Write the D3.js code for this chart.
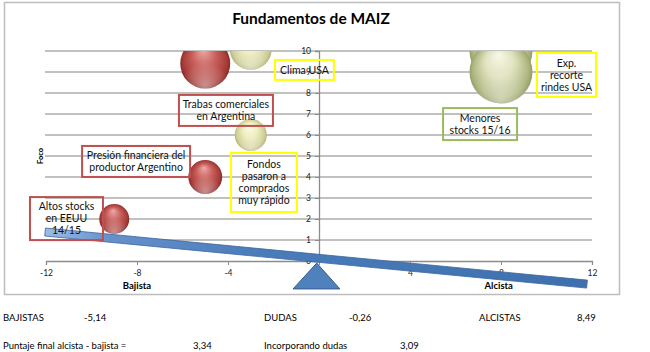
<!DOCTYPE html>
<html><head><meta charset="utf-8">
<script src="https://cdn.jsdelivr.net/npm/d3@7"></script>
<style>body{margin:0;background:#fff} svg{display:block;font-family:Lato,"Open Sans",sans-serif}</style>
</head><body><svg id="c" width="650" height="352"></svg>
<script>
// ---- data ----
const xTicks = [-12, -8, -4, 0, 4, 8, 12];
const yTicks = [0, 1, 2, 3, 4, 5, 6, 7, 8, 9, 10];
const bubbleX = [8, 8, -5, -3, -3, -5, -9];
const bubbleY = [10, 9, 9.4, 10.1, 6, 4, 2];
const bubbleSize = [9.7, 9.7, 6.1, 4.3, 2.5, 2.8, 2.2];
const bubbleKind = ["green", "green", "red", "yellow", "yellow", "red", "red"];
const noteText = [["Clima USA"], ["Trabas comerciales", "en Argentina"], ["Presión financiera del", "productor Argentino"],
  ["Fondos", "pasaron a", "comprados", "muy rápido"], ["Altos stocks", "en EEUU", "14/15"], ["Exp.", "recorte", "rindes USA"], ["Menores", "stocks 15/16"]];
const noteX = [-0.64, -4.09, -8.04, -2.42, -11.1, 10.88, 7.08];
const noteY = [9.1, 7.17, 4.74, 3.74, 2.02, 8.86, 6.52];
const noteKind = ["yellow", "red", "red", "yellow", "red", "yellow", "green"];
const seesawX = [-12.04, 11.78];
const seesawY = [1.38, -1.1];
const fulcrumX = [-0.1, -1.14, 0.92];
const fulcrumY = [-0.1, -1.33, -1.33];
const summaryLabels1 = ["BAJISTAS", "DUDAS", "ALCISTAS"];
const summaryValues1 = ["-5,14", "-0,26", "8,49"];
const summaryLabels2 = ["Puntaje final alcista - bajista =", "Incorporando dudas"];
const summaryValues2 = ["3,34", "3,09"];

// ---- layout ----
const svg = d3.select("#c");
const L = 46, R = 592, T = 51, B = 261;
const x = d3.scaleLinear().domain([-12, 12]).range([L, R]);
const y = d3.scaleLinear().domain([0, 10]).range([B, T]);
const r = d3.scaleSqrt().domain([0, 10]).range([0, 32]);
const noteW = [59, 94, 108, 66, 73, 59, 74];
const noteH = [20, 31, 31, 59, 43, 44, 32];
const borderCol = {red: "#C0504D", yellow: "#FFFF00", green: "#9BBB59"};

const defs = svg.append("defs");
const grads = {
  red: ["#EDAAA7", "#C8605C", "#A63A37", "#7E2725"],
  yellow: ["#FDFDEA", "#EEEEBE", "#CDCD95", "#AAAA70"],
  green: ["#F8F8E8", "#E0E2BE", "#AEB67F", "#8C975F"]
};
Object.entries(grads).forEach(([k, c]) => {
  const g = defs.append("radialGradient").attr("id", "g-" + k)
    .attr("cx", "50%").attr("cy", "50%").attr("r", "52%").attr("fx", "46%").attr("fy", "22%");
  [[0, c[0]], [0.45, c[1]], [0.85, c[2]], [1, c[3]]].forEach(([o, col]) =>
    g.append("stop").attr("offset", o).attr("stop-color", col));
});
const ref = defs.append("radialGradient").attr("id", "refl").attr("cx", "50%").attr("cy", "95%").attr("r", "50%");
ref.append("stop").attr("offset", 0).attr("stop-color", "#fff").attr("stop-opacity", 0.45);
ref.append("stop").attr("offset", 1).attr("stop-color", "#fff").attr("stop-opacity", 0);
defs.append("clipPath").attr("id", "plotclip").append("rect")
  .attr("x", L - 40).attr("y", T).attr("width", R - L + 80).attr("height", B - T + 40);

// frame
svg.append("rect").attr("x", 4.5).attr("y", 2.5).attr("width", 615).attr("height", 292)
  .attr("fill", "#fff").attr("stroke", "#BDBDBD").attr("stroke-width", 1.5);

// title
svg.append("text").attr("x", 311).attr("y", 24).attr("text-anchor", "middle")
  .attr("font-size", 15.5).attr("font-weight", "bold").attr("fill", "#000").text("Fundamentos de MAIZ");

// gridlines
svg.append("g").selectAll("line").data(yTicks.filter(d => d > 0)).join("line")
  .attr("x1", L - 1).attr("x2", R).attr("y1", d => y(d)).attr("y2", d => y(d))
  .attr("stroke", "#ADADAD").attr("stroke-width", 1.3);

// x axis
const xa = svg.append("g").attr("transform", `translate(0,${y(0)})`)
  .call(d3.axisBottom(x).tickValues(xTicks).tickSize(4).tickFormat(d => d === 0 ? "" : d));
xa.select(".domain").attr("stroke", "#8C8C8C").attr("stroke-width", 1.3);
xa.selectAll(".tick line").attr("stroke", "#8C8C8C");
xa.selectAll("text").attr("font-family", "Lato, sans-serif").attr("font-size", 8.5).attr("fill", "#222").attr("dy", "0.95em");

// y axis
const ya = svg.append("g").attr("transform", `translate(${x(0)},0)`)
  .call(d3.axisLeft(y).tickValues(yTicks).tickSize(4).tickPadding(4));
ya.select(".domain").attr("stroke", "#8C8C8C").attr("stroke-width", 1.3);
ya.selectAll(".tick line").attr("stroke", "#8C8C8C");
ya.selectAll("text").attr("font-family", "Lato, sans-serif").attr("font-size", 8.5).attr("fill", "#222");

// axis titles
svg.append("text").attr("x", x(-8)).attr("y", 289).attr("text-anchor", "middle")
  .attr("font-size", 9.5).attr("font-weight", "bold").text("Bajista");
svg.append("text").attr("x", x(7.9)).attr("y", 289).attr("text-anchor", "middle")
  .attr("font-size", 9.5).attr("font-weight", "bold").text("Alcista");
svg.append("text").attr("transform", `translate(43,${y(5)}) rotate(-90)`).attr("text-anchor", "middle")
  .attr("font-size", 7.5).attr("font-weight", "bold").text("Foco");

// bubbles
const bubbles = bubbleX.map((d, i) => ({x: d, y: bubbleY[i], s: bubbleSize[i], k: bubbleKind[i]}));
const bg = svg.append("g").attr("clip-path", "url(#plotclip)");
const bsel = bg.selectAll("g").data(bubbles).join("g");
bsel.append("circle").attr("cx", d => x(d.x)).attr("cy", d => y(d.y)).attr("r", d => r(d.s))
  .attr("fill", d => `url(#g-${d.k})`);
bsel.append("circle").attr("cx", d => x(d.x)).attr("cy", d => y(d.y)).attr("r", d => r(d.s))
  .attr("fill", "url(#refl)");

// seesaw
const p1 = [x(seesawX[0]), y(seesawY[0])], p2 = [x(seesawX[1]), y(seesawY[1])];
const dx = p2[0] - p1[0], dy = p2[1] - p1[1], len = Math.hypot(dx, dy);
const nx = -dy / len * 4, ny = dx / len * 4;
const sg = defs.append("linearGradient").attr("id", "seesaw").attr("gradientUnits", "userSpaceOnUse")
  .attr("x1", p1[0]).attr("y1", p1[1]).attr("x2", p2[0]).attr("y2", p2[1]);
[[0, "#9EBCE2"], [0.12, "#6690CA"], [0.4, "#4A7CBA"], [1, "#3F70AE"]].forEach(([o, c]) =>
  sg.append("stop").attr("offset", o).attr("stop-color", c));
svg.append("path").attr("d", d3.line()([
  [p1[0] + nx, p1[1] + ny], [p2[0] + nx, p2[1] + ny], [p2[0] - nx, p2[1] - ny], [p1[0] - nx, p1[1] - ny]]) + "Z")
  .attr("fill", "url(#seesaw)").attr("stroke", "#3A669E").attr("stroke-width", 0.8);

// fulcrum
svg.append("path").attr("d", d3.line()(fulcrumX.map((d, i) => [x(d), y(fulcrumY[i])])) + "Z")
  .attr("fill", "#4F81BD").attr("stroke", "#385D8A").attr("stroke-width", 1);

// notes
const notes = noteText.map((t, i) => ({t, x: noteX[i], y: noteY[i], k: noteKind[i], w: noteW[i], h: noteH[i]}));
const ng = svg.append("g").selectAll("g").data(notes).join("g")
  .attr("transform", d => `translate(${x(d.x)},${y(d.y)})`);
ng.append("rect").attr("x", d => -d.w / 2).attr("y", d => -d.h / 2).attr("width", d => d.w).attr("height", d => d.h)
  .attr("fill", "none").attr("stroke", d => borderCol[d.k]).attr("stroke-width", 2);
ng.each(function (d) {
  const n = d.t.length, lh = 12;
  d3.select(this).selectAll("text").data(d.t).join("text")
    .attr("x", 0).attr("y", (t, j) => (j - (n - 1) / 2) * lh).attr("dy", "0.35em")
    .attr("text-anchor", "middle").attr("font-size", 10.5).attr("fill", "#111").text(t => t);
});

// summary
const s1lx = [3, 264, 479], s1vx = [84, 349, 577];
svg.append("g").selectAll("text").data(summaryLabels1).join("text")
  .attr("x", (d, i) => s1lx[i]).attr("y", 321).attr("font-size", 9.5).text(d => d);
svg.append("g").selectAll("text").data(summaryValues1).join("text")
  .attr("x", (d, i) => s1vx[i]).attr("y", 321).attr("font-size", 9.5).text(d => d);
const s2lx = [3, 264], s2vx = [193, 400];
svg.append("g").selectAll("text").data(summaryLabels2).join("text")
  .attr("x", (d, i) => s2lx[i]).attr("y", 349).attr("font-size", 9.5).text(d => d);
svg.append("g").selectAll("text").data(summaryValues2).join("text")
  .attr("x", (d, i) => s2vx[i]).attr("y", 349).attr("font-size", 9.5).text(d => d);
</script></body></html>
